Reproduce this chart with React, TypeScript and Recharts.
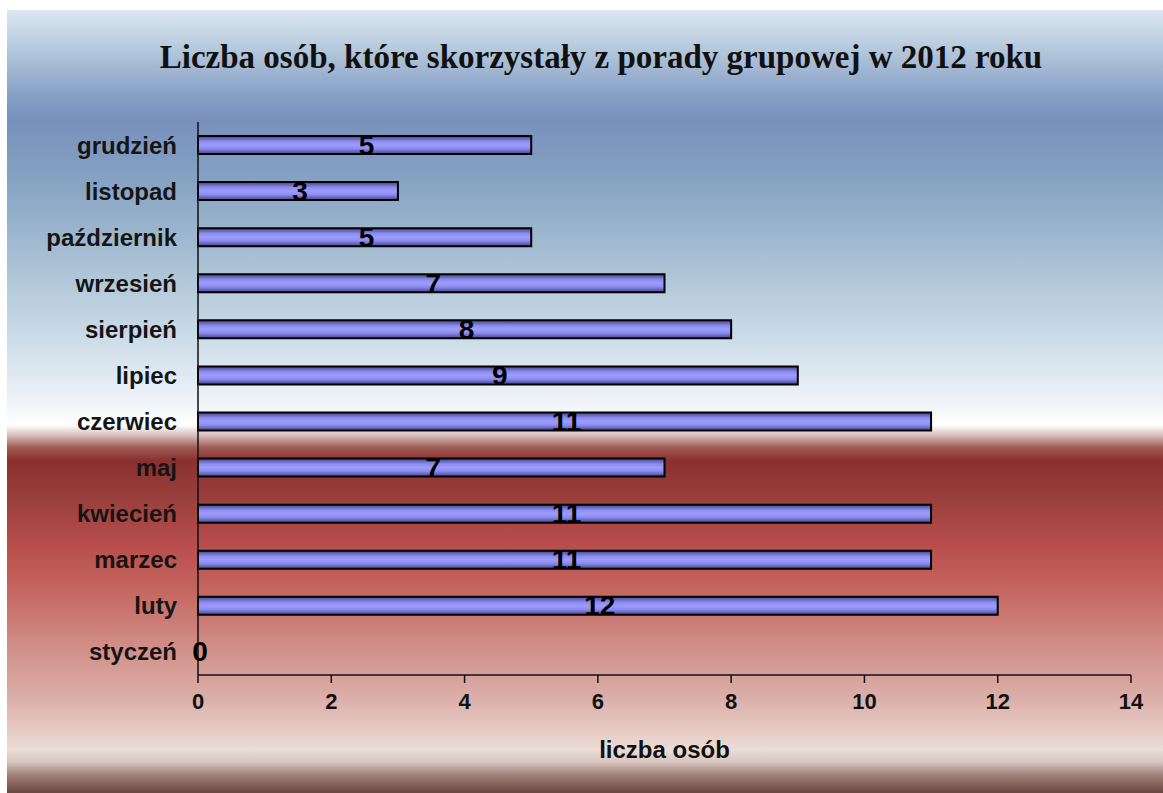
import React from 'react';
import { BarChart, Bar, XAxis, YAxis, LabelList, Label, ReferenceDot } from 'recharts';

const months = ['styczeń', 'luty', 'marzec', 'kwiecień', 'maj', 'czerwiec', 'lipiec', 'sierpień', 'wrzesień', 'październik', 'listopad', 'grudzień'];
const persons = [0, 12, 11, 11, 7, 11, 9, 8, 7, 5, 3, 5];
const xTicks = [0, 2, 4, 6, 8, 10, 12, 14];
const title = 'Liczba osób, które skorzystały z porady grupowej w 2012 roku';
const xAxisTitle = 'liczba osób';

const data = months.map((m, i) => ({ month: m, value: persons[i] }));
const zeroEntries = data.filter((d) => d.value === 0);

const bg = `linear-gradient(to bottom,
  #dde8f0 0%, #b4c8dc 5.1%, #8ca4c8 10.2%, #7890bc 13.9%, #86a2c2 21.7%, #a8c0d4 31.9%,
  #ccdce8 42.1%, #eef2f7 49.8%, #ffffff 53%, #d8c0bc 54.3%, #a05a55 55.9%, #8a3030 57.5%,
  #9a403c 62.6%, #b84e4c 68.3%, #c46660 74.1%, #d08a84 80.5%, #dcb0aa 88.1%, #ecdcd6 94.5%,
  #d8c6c0 96%, #a08078 97.7%, #6a4640 100%)`;

const labelFont = '"Liberation Sans", Arial, sans-serif';
const valueStyle = { fill: '#000', fontSize: 28, fontWeight: 'bold', fontFamily: labelFont } as const;

const renderValueLabel = (props: any) => {
  const { x, y, width, height, value } = props;
  const cx = Number(x) + Number(width || 0) / 2 + 2;
  const cy = Number(y) + Number(height || 0) / 2;
  return (
    <text x={cx} y={cy} textAnchor="middle" dominantBaseline="central" style={valueStyle}>
      {value}
    </text>
  );
};

const makeZeroLabel = (value: number) => (props: any) => {
  const vb = props.viewBox || {};
  const cx = Number(vb.cx ?? vb.x ?? 0) + 2;
  const cy = Number(vb.cy ?? vb.y ?? 0);
  return (
    <text x={cx} y={cy} textAnchor="middle" dominantBaseline="central" style={valueStyle}>
      {value}
    </text>
  );
};

export default function App() {
  return (
    <div style={{ position: 'absolute', left: 7, top: 10, width: 1156, height: 783, background: bg }}>
      <BarChart
        width={1156}
        height={783}
        data={data}
        layout="vertical"
        margin={{ top: 112, right: 32, left: 0, bottom: 33 }}
        barSize={18}
      >
        <defs>
          <linearGradient id="barGrad" x1="0" y1="0" x2="0" y2="1">
            <stop offset="0%" stopColor="#44448e" />
            <stop offset="30%" stopColor="#8c8cee" />
            <stop offset="50%" stopColor="#9d9dff" />
            <stop offset="70%" stopColor="#8c8cee" />
            <stop offset="100%" stopColor="#44448e" />
          </linearGradient>
        </defs>
        <text x={594} y={58} textAnchor="middle" style={{ fontFamily: '"Liberation Serif", "Times New Roman", serif', fontWeight: 'bold', fontSize: 33, fill: '#111' }}>
          {title}
        </text>
        <XAxis
          type="number"
          domain={[0, 14]}
          ticks={xTicks}
          height={85}
          tickSize={8}
          tickMargin={10}
          axisLine={{ stroke: '#111', strokeWidth: 1.5 }}
          tickLine={{ stroke: '#111', strokeWidth: 1.5 }}
          tick={{ fill: '#111', fontSize: 22, fontWeight: 'bold', fontFamily: labelFont }}
        >
          <Label value={xAxisTitle} position="insideBottom" offset={2} style={{ fill: '#111', fontSize: 24, fontWeight: 'bold', fontFamily: labelFont }} />
        </XAxis>
        <YAxis
          type="category"
          dataKey="month"
          reversed
          width={191}
          tickSize={0}
          tickMargin={21}
          interval={0}
          axisLine={{ stroke: '#111', strokeWidth: 1.5 }}
          tickLine={false}
          tick={{ fill: '#151515', fontSize: 24, fontWeight: 'bold', fontFamily: labelFont }}
        />
        <Bar dataKey="value" fill="url(#barGrad)" stroke="#000" strokeWidth={2} isAnimationActive={false}>
          <LabelList dataKey="value" content={renderValueLabel} />
        </Bar>
        {zeroEntries.map((d) => (
          <ReferenceDot
            key={d.month}
            x={d.value}
            y={d.month}
            r={0}
            fill="none"
            stroke="none"
            ifOverflow="visible"
            label={makeZeroLabel(d.value)}
          />
        ))}
      </BarChart>
    </div>
  );
}
